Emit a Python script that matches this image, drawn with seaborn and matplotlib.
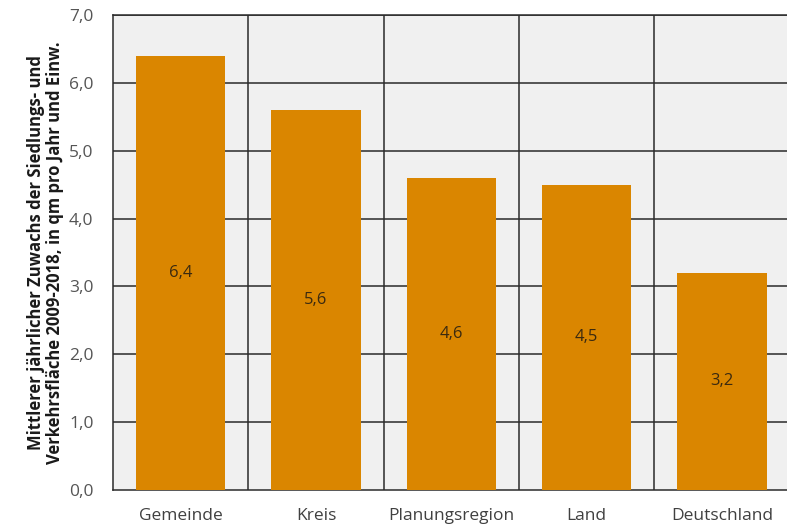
import numpy as np
import pandas as pd
import seaborn as sns
import matplotlib.pyplot as plt

categories = ['Gemeinde', 'Kreis', 'Planungsregion', 'Land', 'Deutschland']
values = [6.4, 5.6, 4.6, 4.5, 3.2]
yticks = [0, 1, 2, 3, 4, 5, 6, 7]
ylabel = ('Mittlerer jährlicher Zuwachs der Siedlungs- und\n'
          'Verkehrsfläche 2009-2018, in qm pro Jahr und Einw.')

bar_color = '#DA8600'
grid_color = '#2a2a2a'

sns.set_theme(style='white')
plt.rcParams['font.family'] = ['Open Sans', 'DejaVu Sans']

df = pd.DataFrame({'cat': categories, 'val': values})

fig = plt.figure(figsize=(7.87, 5.31), dpi=100)
ax = fig.add_axes([113 / 787, 41 / 531, 1 - 113 / 787, 475 / 531])
ax.set_facecolor('#f0f0f0')

sns.barplot(data=df, x='cat', y='val', color=bar_color, saturation=1,
            width=0.66, linewidth=0, ax=ax, zorder=3)

ax.set_ylim(0, 7)
ax.set_xlim(-0.5, 4.48)
ax.set_yticks(yticks)
ax.set_yticklabels([f'{t:.1f}'.replace('.', ',') for t in yticks],
                   fontsize=12.5, color='#555555')
ax.tick_params(axis='x', length=0, labelsize=12.5, labelcolor='#404040', pad=13)
ax.tick_params(axis='y', length=0, pad=14)
ax.set_xticks(np.arange(4) + 0.5, minor=True)
ax.tick_params(axis='x', which='minor', length=6, width=1, color=grid_color, direction='out')

for y in yticks[1:]:
    ax.axhline(y, color=grid_color, lw=1.1, zorder=1)
for x in np.arange(4) + 0.5:
    ax.axvline(x, color=grid_color, lw=1.1, zorder=1)

for i, v in enumerate(values):
    ax.text(i, v / 2, f'{v:.1f}'.replace('.', ','), ha='center', va='center',
            fontsize=12, color='#3b2a10', zorder=4)

for side in ['left', 'top', 'bottom']:
    ax.spines[side].set_visible(True)
    ax.spines[side].set_color(grid_color)
    ax.spines[side].set_linewidth(1.1)
ax.spines['right'].set_visible(False)

ax.set_xlabel('')
ax.set_ylabel(ylabel, fontsize=12, fontweight='bold', color='#1a1a1a',
              labelpad=4, linespacing=1.05)

fig.savefig('out.png', dpi=100)
